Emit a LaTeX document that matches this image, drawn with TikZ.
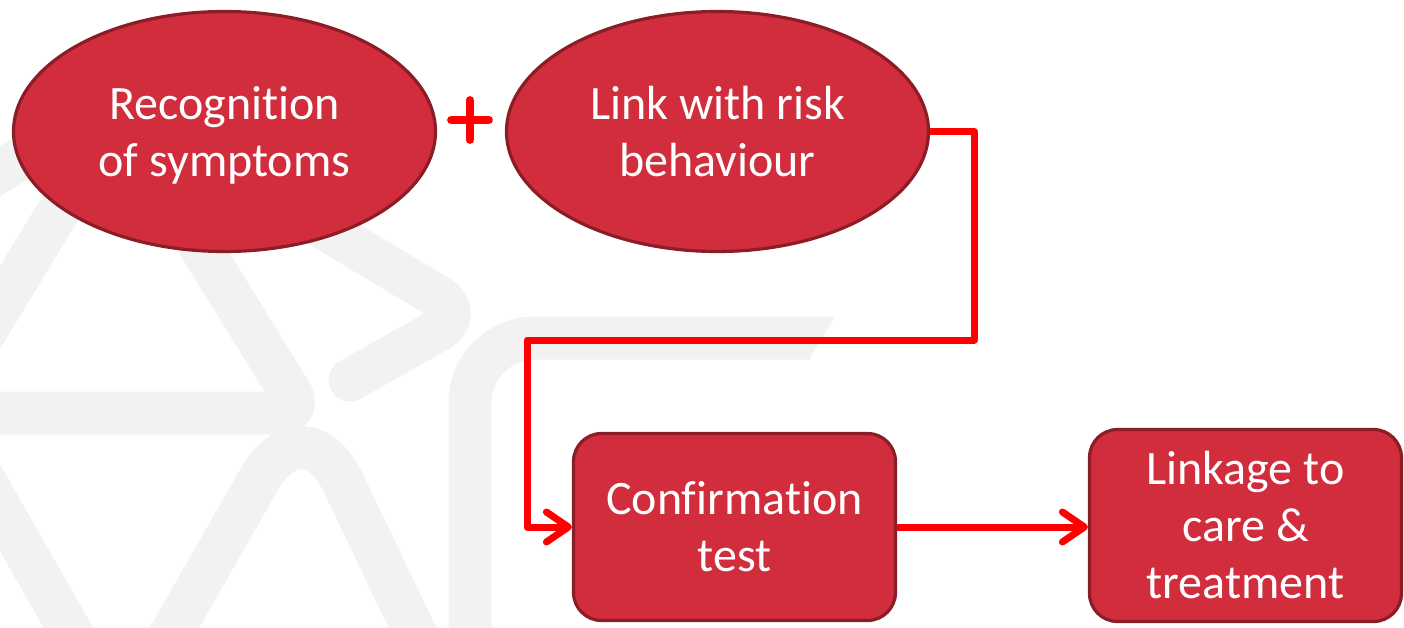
\documentclass[tikz,border=0pt]{standalone}
\usepackage{fontspec}
\setmainfont{Carlito}[Ligatures={NoCommon}]
\usetikzlibrary{arrows.meta,shapes.geometric}
\definecolor{boxred}{RGB}{209,45,60}
\definecolor{boxedge}{RGB}{140,28,38}
\definecolor{linkred}{RGB}{255,0,0}
\definecolor{wm}{RGB}{242,242,242}
\begin{document}
\begin{tikzpicture}[x=0.5pt,y=-0.5pt,
  wmband/.style={draw=wm,line width=21.5pt},
  lbl/.style={text=white,font=\fontsize{24}{28.5}\selectfont,align=center,inner sep=0pt},
  oval/.style={ellipse,fill=boxred,draw=boxedge,line width=1.6pt,minimum width=211pt,minimum height=120pt,lbl},
  rbox/.style={rectangle,rounded corners=14pt,fill=boxred,draw=boxedge,line width=1.6pt,lbl},
  conn/.style={draw=linkred,line width=3.5pt,line join=round,-{Straight Barb[length=11pt,width=15pt,round]}},
  plusline/.style={draw=linkred,line width=4pt,line cap=round},
]
\useasboundingbox (0,0) rectangle (1404,627);
% watermark
\begin{scope}
  \clip (0,0) rectangle (1404,627);
  \draw[wmband,rounded corners=12pt,line join=round] (118,113) -- (303,413) -- (-64,413) -- cycle;
  \draw[wmband] (-30,189) -- (80,123);
  \draw[wmband,rounded corners=17.5pt,line cap=round] (200,154) -- (467,314) -- (350,380);
  \draw[wmband,rounded corners=45pt] (156,660) -- (304,401) -- (428,660);
  \draw[wmband] (-30,455) -- (80,648);
  \draw[wmband,rounded corners=32.5pt] (470,660) -- (470,338) -- (810,338);
  \fill[wm] (809,316.5) -- (835,316.5) -- (809,359.5) -- cycle;
\end{scope}
% nodes
\node[oval,text depth=0pt] (rec) at (224.5,131.5) {Recognition\\of symptoms};
\node[oval] (risk) at (717.5,131.5) {Link with risk\\behaviour};
\node[rbox,minimum width=161pt,minimum height=93.5pt] (conf) at (734.5,527) {Confirmation\\test};
\node[rbox,minimum width=156pt,minimum height=96pt] (care) at (1245.5,525.5) {Linkage to\\care \&\\treatment};
% plus sign
\node[minimum width=18.5pt,minimum height=19.5pt,inner sep=0pt] (plus) at (470,120) {};
\draw[plusline] (plus.west) -- (plus.east);
\draw[plusline] (plus.north) -- (plus.south);
% connectors
\coordinate (k1) at (974,340);
\coordinate (k2) at (527,340);
\draw[conn] (risk.east) -| (k1) -- (k2) |- (conf.west);
\draw[conn] (conf.east) -- (conf.east -| care.west);
\end{tikzpicture}
\end{document}
